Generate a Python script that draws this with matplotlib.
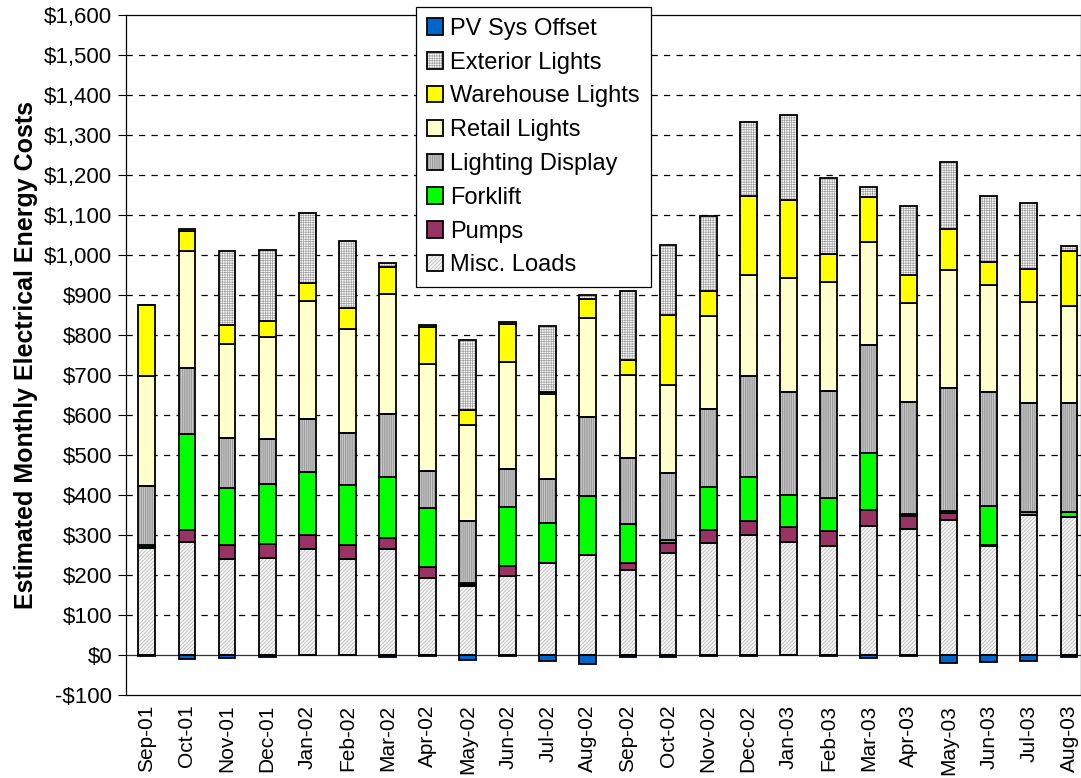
import numpy as np
import matplotlib
matplotlib.use("Agg")
import matplotlib.pyplot as plt
from matplotlib.patches import Patch
from matplotlib.legend_handler import HandlerTuple

plt.rcParams['font.family'] = ['Liberation Sans', 'DejaVu Sans']
plt.rcParams['hatch.linewidth'] = 0.5

# data luettu kuvasta (dollaria / kk)
kuukaudet = ['Sep-01', 'Oct-01', 'Nov-01', 'Dec-01', 'Jan-02', 'Feb-02', 'Mar-02', 'Apr-02',
             'May-02', 'Jun-02', 'Jul-02', 'Aug-02', 'Sep-02', 'Oct-02', 'Nov-02', 'Dec-02',
             'Jan-03', 'Feb-03', 'Mar-03', 'Apr-03', 'May-03', 'Jun-03', 'Jul-03', 'Aug-03']

misc_loads = [267, 282, 240, 243, 265, 240, 265, 193, 172, 197, 231, 249,
              213, 255, 281, 301, 282, 273, 323, 314, 338, 273, 349, 346]
pumps = [4, 31, 34, 35, 34, 34, 28, 27, 6, 26, 0, 0,
         17, 26, 32, 33, 38, 38, 39, 34, 17, 3, 0, 0]
forklift = [5, 239, 144, 149, 159, 150, 153, 147, 2, 147, 98, 148,
            97, 7, 107, 112, 81, 81, 143, 5, 6, 97, 8, 11]
lighting_display = [147, 165, 125, 114, 133, 132, 157, 93, 154, 95, 110, 197,
                    166, 168, 195, 251, 257, 269, 270, 280, 306, 285, 273, 272]
retail_lights = [274, 292, 234, 255, 293, 260, 299, 267, 242, 267, 214, 248,
                 207, 218, 232, 253, 284, 271, 258, 247, 296, 267, 252, 244]
warehouse_lights = [178, 52, 49, 38, 45, 51, 68, 92, 37, 95, 5, 48,
                    38, 177, 62, 198, 196, 71, 113, 70, 103, 57, 82, 136]
exterior_lights = [0, 5, 183, 178, 177, 168, 9, 5, 175, 5, 165, 11,
                   171, 175, 189, 184, 211, 190, 25, 173, 166, 166, 166, 14]
pv_offset = [-3, -10, -8, -5, -1, -1, -4, -3, -12, -3, -16, -22,
             -4, -6, -3, -2, 0, -3, -7, -3, -19, -18, -16, -5]

# sarjat alhaalta ylos: nimi, data, taytto, kuvio, kuvion vari
sarjat = [
    ('Misc. Loads', misc_loads, '#f6f6f6', '/' * 9, '#b4b4b4'),
    ('Pumps', pumps, '#993366', None, None),
    ('Forklift', forklift, '#00ff00', None, None),
    ('Lighting Display', lighting_display, '#c8c8c8', '|' * 9, '#8a8a8a'),
    ('Retail Lights', retail_lights, '#ffffcc', None, None),
    ('Warehouse Lights', warehouse_lights, '#ffff00', None, None),
    ('Exterior Lights', exterior_lights, '#ffffff', '+' * 7, '#a0a0a0'),
]

fig = plt.figure(figsize=(10.81, 7.78), dpi=100)
ax = fig.add_axes([0.1166, 0.1067, 0.8834, 0.8740])

x = np.arange(len(kuukaudet))
leveys = 0.42
pohja = np.zeros(len(kuukaudet))
kahvat = {}

for nimi, arvot, vari, kuvio, kuviovari in sarjat:
    arvot = np.array(arvot, dtype=float)
    if kuvio:
        ax.bar(x, arvot, leveys, bottom=pohja, color=vari, hatch=kuvio,
               edgecolor=kuviovari, linewidth=0, zorder=3)
        ax.bar(x, arvot, leveys, bottom=pohja, fill=False,
               edgecolor='black', linewidth=1.3, zorder=4)
        kahvat[nimi] = (Patch(facecolor=vari, hatch=kuvio, edgecolor=kuviovari, linewidth=0),
                        Patch(fill=False, edgecolor='black', linewidth=1.3))
    else:
        ax.bar(x, arvot, leveys, bottom=pohja, color=vari,
               edgecolor='black', linewidth=1.3, zorder=3)
        kahvat[nimi] = Patch(facecolor=vari, edgecolor='black', linewidth=1.3)
    pohja = pohja + arvot

ax.bar(x, pv_offset, leveys, color='#0066cc', edgecolor='black', linewidth=1.3, zorder=3)
kahvat['PV Sys Offset'] = Patch(facecolor='#0066cc', edgecolor='black', linewidth=1.3)

ax.set_xlim(-0.52, 23.3)
ax.set_ylim(-100, 1600)
ax.set_yticks(np.arange(-100, 1601, 100))
ax.set_yticklabels([('-$' if v < 0 else '$') + f'{abs(v):,}' for v in range(-100, 1601, 100)],
                   fontsize=16)
ax.set_xticks(x)
ax.set_xticklabels(kuukaudet, rotation=90, fontsize=15)
ax.tick_params(axis='x', length=0, pad=7)
ax.tick_params(axis='y', direction='out', length=6, width=0.8, pad=4)

for v in range(100, 1501, 100):
    ax.axhline(v, color='black', linewidth=0.9, dashes=(5, 5), zorder=1)
ax.axhline(0, color='#333333', linewidth=0.9, zorder=2)
for s in ax.spines.values():
    s.set_linewidth(0.9)

ax.set_ylabel('Estimated Monthly Electrical Energy Costs', fontsize=18, fontweight='bold',
              labelpad=4)

jarjestys = ['PV Sys Offset', 'Exterior Lights', 'Warehouse Lights', 'Retail Lights',
             'Lighting Display', 'Forklift', 'Pumps', 'Misc. Loads']
leg = ax.legend([kahvat[n] for n in jarjestys], jarjestys,
                handler_map={tuple: HandlerTuple(ndivide=1)},
                loc='upper left', bbox_to_anchor=(0.3037, 1.0115), fontsize=17,
                handlelength=0.7, handleheight=0.7, handletextpad=0.3,
                labelspacing=0.5, borderpad=0.45, borderaxespad=0,
                fancybox=False, framealpha=1, edgecolor='black')
leg.get_frame().set_linewidth(0.9)
leg.set_zorder(10)

fig.savefig('out.png', dpi=100)
